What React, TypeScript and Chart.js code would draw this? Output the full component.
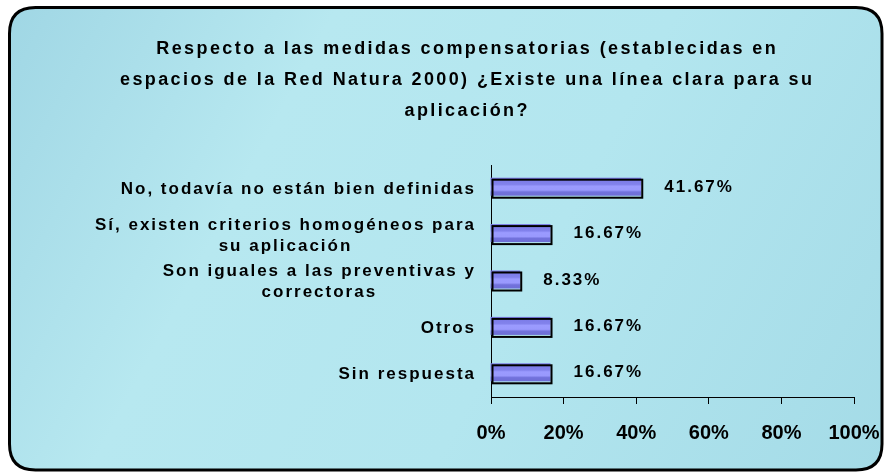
import React, { useEffect, useRef } from 'react';
import { Chart, registerables } from 'chart.js';

Chart.register(...registerables);

const titleLines = [
  'Respecto a las medidas compensatorias (establecidas en',
  'espacios de la Red Natura 2000) ¿Existe una línea clara para su',
  'aplicación?',
];
const categories = [
  ['No, todavía no están bien definidas'],
  ['Sí, existen criterios homogéneos para', 'su aplicación'],
  ['Son iguales a las preventivas y', 'correctoras'],
  ['Otros'],
  ['Sin respuesta'],
];
const values = [41.67, 16.67, 8.33, 16.67, 16.67];
const valueLabels = ['41.67%', '16.67%', '8.33%', '16.67%', '16.67%'];
const xTickStep = 20;
const xMin = 0;
const xMax = 100;

const FONT = '"Liberation Sans", Arial, Helvetica, sans-serif';

function spacedWidth(ctx: CanvasRenderingContext2D, text: string, sp: number) {
  const chars = Array.from(text);
  let w = 0;
  for (const ch of chars) w += ctx.measureText(ch).width;
  return w + sp * Math.max(0, chars.length - 1);
}

function drawSpaced(
  ctx: CanvasRenderingContext2D,
  text: string,
  x: number,
  y: number,
  align: 'left' | 'right' | 'center',
  sp: number
) {
  const w = spacedWidth(ctx, text, sp);
  let cx = align === 'right' ? x - w : align === 'center' ? x - w / 2 : x;
  ctx.textAlign = 'left';
  for (const ch of Array.from(text)) {
    ctx.fillText(ch, cx, y);
    cx += ctx.measureText(ch).width + sp;
  }
}

function roundRect(ctx: CanvasRenderingContext2D, x: number, y: number, w: number, h: number, r: number) {
  ctx.beginPath();
  ctx.moveTo(x + r, y);
  ctx.lineTo(x + w - r, y);
  ctx.quadraticCurveTo(x + w, y, x + w, y + r);
  ctx.lineTo(x + w, y + h - r);
  ctx.quadraticCurveTo(x + w, y + h, x + w - r, y + h);
  ctx.lineTo(x + r, y + h);
  ctx.quadraticCurveTo(x, y + h, x, y + h - r);
  ctx.lineTo(x, y + r);
  ctx.quadraticCurveTo(x, y, x + r, y);
  ctx.closePath();
}

const decorPlugin = {
  id: 'decor',
  beforeDraw(chart: any) {
    const ctx: CanvasRenderingContext2D = chart.ctx;
    const W = chart.width;
    const H = chart.height;
    ctx.save();
    ctx.fillStyle = '#ffffff';
    ctx.fillRect(0, 0, W, H);
    roundRect(ctx, 9.5, 7.5, W - 12.5, H - 9.5, 26);
    const g = ctx.createLinearGradient(0, 0, W, H);
    g.addColorStop(0, '#9fd6e4');
    g.addColorStop(0.3, '#b7e8f0');
    g.addColorStop(0.6, '#b3e6ef');
    g.addColorStop(1, '#a4dbe7');
    ctx.fillStyle = g;
    ctx.fill();
    ctx.lineWidth = 3;
    ctx.strokeStyle = '#000000';
    ctx.stroke();
    ctx.restore();
  },
  afterDatasetsDraw(chart: any) {
    const ctx: CanvasRenderingContext2D = chart.ctx;
    const area = chart.chartArea;
    const meta = chart.getDatasetMeta(0);
    ctx.save();
    ctx.strokeStyle = '#000000';
    ctx.lineWidth = 1;
    ctx.beginPath();
    ctx.moveTo(Math.round(area.left) + 0.5, area.top);
    ctx.lineTo(Math.round(area.left) + 0.5, area.bottom);
    ctx.stroke();
    meta.data.forEach((el: any) => {
      const p = el.getProps(['x', 'y', 'base', 'height'], true);
      const left = Math.min(p.base, p.x);
      const right = Math.max(p.base, p.x);
      const top = p.y - p.height / 2;
      const h = p.height;
      const g = ctx.createLinearGradient(0, top, 0, top + h);
      g.addColorStop(0, '#7a7ae6');
      g.addColorStop(0.3, '#8282ec');
      g.addColorStop(0.4, '#9b9bff');
      g.addColorStop(0.6, '#9999fd');
      g.addColorStop(0.7, '#7272dc');
      g.addColorStop(0.9, '#6e6ed6');
      g.addColorStop(1, '#b4b4f8');
      ctx.fillStyle = g;
      ctx.fillRect(left - 1, top - 1, right - left, h - 1);
      ctx.lineWidth = 2;
      ctx.strokeStyle = '#000000';
      ctx.strokeRect(left + 1, top + 1, right - left - 1, h - 1);
    });
    ctx.restore();
  },
  afterDraw(chart: any) {
    const ctx: CanvasRenderingContext2D = chart.ctx;
    const meta = chart.getDatasetMeta(0);
    ctx.save();
    ctx.fillStyle = '#000000';
    ctx.textBaseline = 'middle';
    ctx.font = `bold 18px ${FONT}`;
    titleLines.forEach((line, i) => {
      drawSpaced(ctx, line, 466, 49 + i * 31, 'center', 2.4);
    });
    ctx.font = `bold 17px ${FONT}`;
    meta.data.forEach((el: any, i: number) => {
      const lines = categories[i];
      const widths = lines.map((l) => spacedWidth(ctx, l, 2));
      const maxW = Math.max(...widths);
      const right = 474;
      const lh = 21;
      const y0 = el.y + 1 - ((lines.length - 1) * lh) / 2;
      lines.forEach((l, j) => {
        drawSpaced(ctx, l, right - maxW / 2, y0 + j * lh, 'center', 2);
      });
    });
    ctx.font = `bold 17px ${FONT}`;
    meta.data.forEach((el: any, i: number) => {
      drawSpaced(ctx, valueLabels[i], el.x + 22, el.y - 1, 'left', 2);
    });
    ctx.restore();
  },
};

export default function App() {
  const ref = useRef<HTMLCanvasElement | null>(null);
  useEffect(() => {
    if (!ref.current) return;
    const chart = new Chart(ref.current, {
      type: 'bar',
      data: {
        labels: categories.map((c) => c.join(' ')),
        datasets: [
          {
            data: values,
            backgroundColor: 'rgba(0,0,0,0)',
            borderWidth: 0,
            barPercentage: 0.41,
            categoryPercentage: 1,
          },
        ],
      },
      options: {
        indexAxis: 'y',
        responsive: false,
        maintainAspectRatio: false,
        animation: false,
        devicePixelRatio: 1,
        layout: { padding: { left: 491, right: 31, top: 165, bottom: 0 } },
        plugins: {
          legend: { display: false },
          title: { display: false },
          tooltip: { enabled: false },
        },
        scales: {
          x: {
            min: xMin,
            max: xMax,
            grid: {
              display: true,
              drawOnChartArea: false,
              drawTicks: true,
              tickLength: 7,
              color: '#000000',
            },
            border: { display: true, color: '#000000', width: 1 },
            ticks: {
              stepSize: xTickStep,
              callback: (v: any) => `${v}%`,
              color: '#000000',
              font: { family: FONT, size: 20, weight: 'bold' },
              padding: 17,
              maxRotation: 0,
            },
            afterFit: (s: any) => {
              s.height = 75;
              s.paddingLeft = 0;
              s.paddingRight = 0;
            },
          },
          y: { display: false },
        },
      },
      plugins: [decorPlugin],
    } as any);
    return () => chart.destroy();
  }, []);
  return (
    <div style={{ position: 'absolute', left: 0, top: 0, width: 885, height: 472 }}>
      <canvas ref={ref} width={885} height={472} />
    </div>
  );
}
